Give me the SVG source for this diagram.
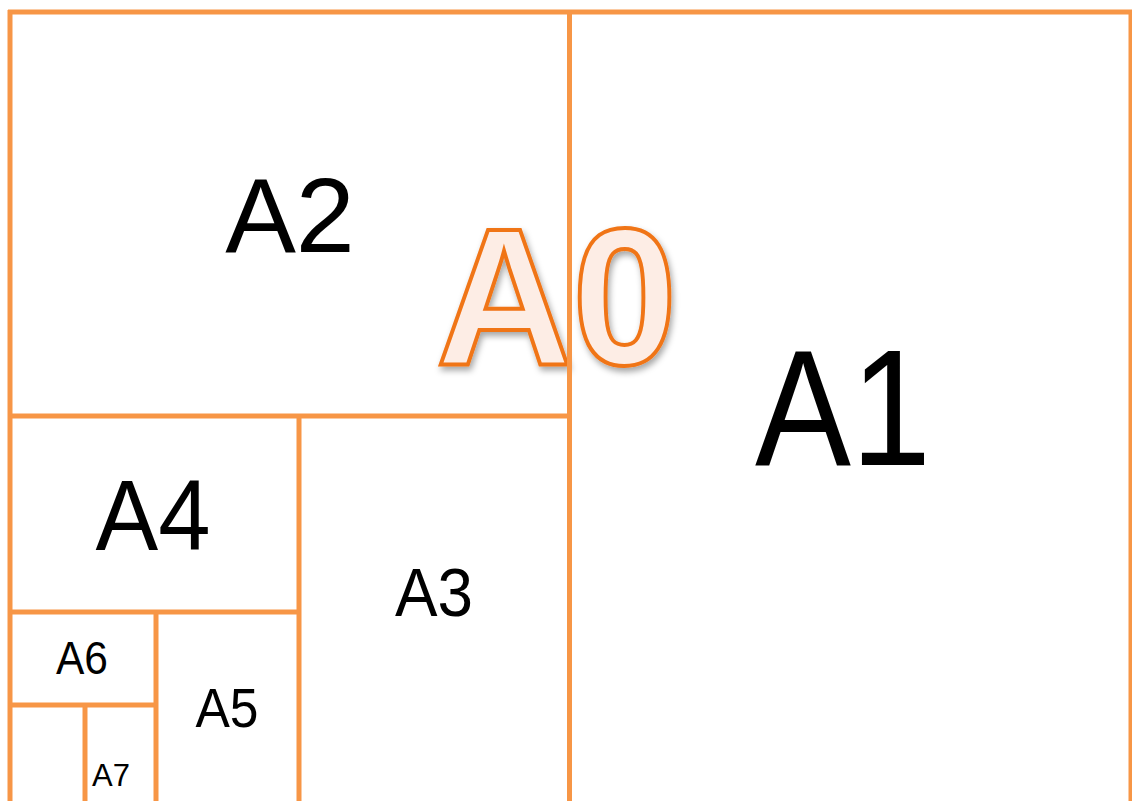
<svg xmlns="http://www.w3.org/2000/svg" width="1132" height="801" viewBox="0 0 1132 801">
<defs>
<style>
.ln{stroke:#F79646;stroke-width:5;fill:none}
.lb{font-family:"Liberation Sans",Arial,sans-serif;fill:#000;text-anchor:middle}
.a0{font-family:"Liberation Sans",Arial,sans-serif;font-weight:bold;font-size:195px;fill:#FDEDE5;stroke:#F07418;stroke-width:4;stroke-linejoin:miter}
</style>
<filter id="sh" x="-20%" y="-20%" width="140%" height="140%">
<feDropShadow dx="2" dy="4" stdDeviation="3" flood-color="#000" flood-opacity="0.35"/>
</filter>
</defs>
<rect width="1132" height="801" fill="#fff"/>
<g id="title">
<text class="a0" x="436" y="364" textLength="241" lengthAdjust="spacingAndGlyphs" filter="url(#sh)">A0</text>
</g>
<g id="connectors">
<line class="ln" x1="8" y1="12" x2="1132" y2="12"/>
<line class="ln" x1="10" y1="10" x2="10" y2="801"/>
<line class="ln" x1="1131" y1="10" x2="1131" y2="801"/>
<line class="ln" x1="569.5" y1="10" x2="569.5" y2="801"/>
<line class="ln" x1="8" y1="416" x2="569" y2="416"/>
<line class="ln" x1="299" y1="416" x2="299" y2="801"/>
<line class="ln" x1="8" y1="612" x2="299" y2="612"/>
<line class="ln" x1="156" y1="612" x2="156" y2="801"/>
<line class="ln" x1="8" y1="705" x2="156" y2="705"/>
<line class="ln" x1="85" y1="705" x2="85" y2="801"/>
</g>
<g id="A1"><text class="lb" x="843" y="465" font-size="165" textLength="176" lengthAdjust="spacingAndGlyphs">A1</text></g>
<g id="A2"><text class="lb" x="290" y="252" font-size="106">A2</text></g>
<g id="A3"><text class="lb" x="434" y="616" font-size="68" textLength="78" lengthAdjust="spacingAndGlyphs">A3</text></g>
<g id="A4"><text class="lb" x="153" y="550" font-size="100" textLength="115" lengthAdjust="spacingAndGlyphs">A4</text></g>
<g id="A5"><text class="lb" x="227" y="727" font-size="56" textLength="63" lengthAdjust="spacingAndGlyphs">A5</text></g>
<g id="A6"><text class="lb" x="82" y="674" font-size="46" textLength="52" lengthAdjust="spacingAndGlyphs">A6</text></g>
<g id="A7"><text class="lb" x="111" y="786" font-size="31">A7</text></g>
</svg>
